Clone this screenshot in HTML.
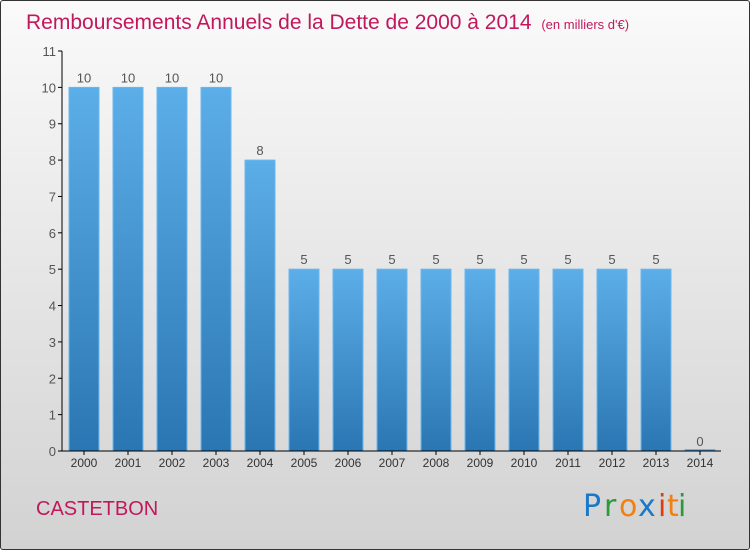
<!DOCTYPE html>
<html><head><meta charset="utf-8"><style>
body{margin:0}
#wrap{width:750px;height:550px;position:relative;overflow:hidden;background:linear-gradient(#fafafa,#d2d2d2);box-sizing:border-box;border:1px solid #333;border-radius:3px;font-family:"Liberation Sans",sans-serif}
</style></head><body>
<div id="wrap">
<svg width="750" height="550">
<defs><linearGradient id="bg" x1="0" y1="0" x2="0" y2="1"><stop offset="0" stop-color="#5caee8"/><stop offset="1" stop-color="#2a76b3"/></linearGradient></defs>
<text x="25" y="28" font-size="21" fill="#c2185b">Remboursements Annuels de la Dette de 2000 à 2014 <tspan font-size="13" dx="4">(en milliers d'€)</tspan></text>
<g id="yaxis"></g>
<g id="bars"></g>
<g id="xaxis"></g>
<text x="35" y="514" font-size="20" fill="#c2185b">CASTETBON</text>
<g font-size="30" font-family="'DejaVu Sans',sans-serif"><text x="582" y="515" fill="#1a78c8">P</text><text x="603" y="515" fill="#2a9a3a">r</text><text x="618" y="515" fill="#f08010">o</text><text x="637" y="515" fill="#1a78c8">x</text><text x="657" y="515" fill="#e03a10">i</text><text x="666" y="515" fill="#f08010">t</text><text x="677" y="515" fill="#2a9a3a">i</text></g>
</svg></div>
<script>
const years=["2000","2001","2002","2003","2004","2005","2006","2007","2008","2009","2010","2011","2012","2013","2014"];
const values=[10,10,10,10,8,5,5,5,5,5,5,5,5,5,0];
const yTicks=[0,1,2,3,4,5,6,7,8,9,10,11];
const NS="http://www.w3.org/2000/svg";
const y=v=>450-v*(400/11);
const x=i=>83+i*44;
function mk(t,a,p){const e=document.createElementNS(NS,t);for(const k in a)e.setAttribute(k,a[k]);p.appendChild(e);return e;}
const ya=document.getElementById('yaxis'),ba=document.getElementById('bars'),xa=document.getElementById('xaxis');
mk('line',{x1:61,y1:y(11),x2:61,y2:450,stroke:'#000'},ya);
yTicks.forEach(t=>{mk('line',{x1:57,y1:y(t),x2:61,y2:y(t),stroke:'#000'},ya);
const tx=mk('text',{x:55,y:y(t)+5,'text-anchor':'end','font-size':13,fill:'#555'},ya);tx.textContent=t;

});
mk('line',{x1:61,y1:450,x2:720,y2:450,stroke:'#000'},xa);
years.forEach((yr,i)=>{
const h=Math.max(450-y(values[i]),1.5);
const r=mk('rect',{x:x(i)-15,y:450-h,width:30,height:h,fill:'url(#bg)',stroke:'#6bb8ee','stroke-width':1},ba);


const v=mk('text',{x:x(i),y:y(values[i])-5,'text-anchor':'middle','font-size':13,fill:'#555'},ba);v.textContent=values[i];


mk('line',{x1:x(i),y1:450,x2:x(i),y2:454,stroke:'#000'},xa);
const l=mk('text',{x:x(i),y:466,'text-anchor':'middle','font-size':12,fill:'#333'},xa);l.textContent=yr;


});
</script>
</body></html>
